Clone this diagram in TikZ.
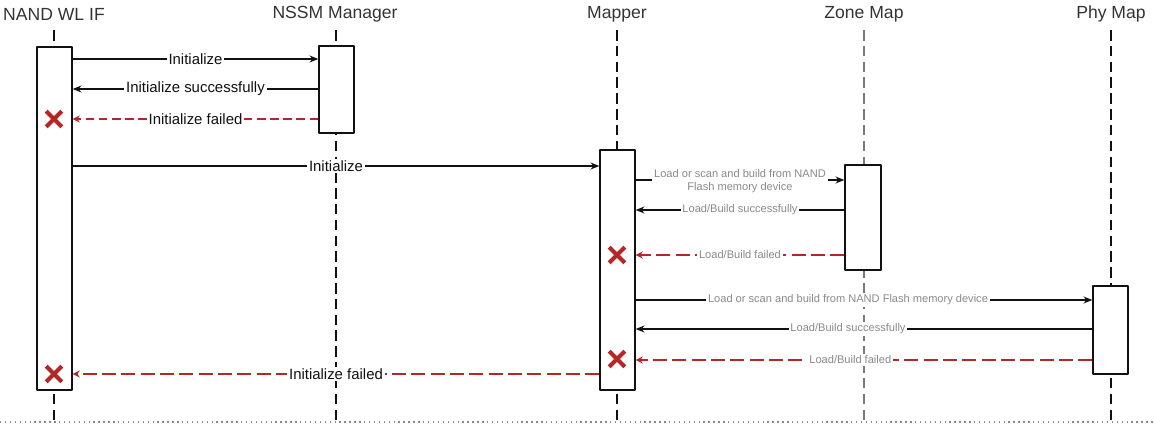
\documentclass[tikz,border=0pt]{standalone}
\usepackage{fontspec}
\setmainfont{Liberation Sans}
\usetikzlibrary{arrows.meta,fit,shapes.misc}
\newcommand{\Unit}{0.02cm}
\newcommand{\Thin}{0.6pt}
\definecolor{ink}{HTML}{111111}
\definecolor{headink}{HTML}{333333}
\definecolor{mute}{HTML}{8A8A8A}
\definecolor{failred}{HTML}{B52626}
\definecolor{zoneline}{HTML}{7A7A7A}

\tikzset{
  head/.style={font=\fontsize{10}{12}\selectfont, text=headink, inner sep=1pt},
  life/.style={ink, line width=1.4pt, dash pattern=on 6pt off 3pt},
  actbox/.style={draw=ink, fill=white, line width=0.8pt, inner sep=0pt},
  msg/.style={draw=ink, line width=\Thin, -{Stealth[length=5pt,width=4pt]}},
  failmsg/.style={draw=failred, line width=1.6pt, dash pattern=on 8pt off 3pt,
    -{Stealth[length=4pt,width=4pt]}},
  lbl/.style={fill=white, inner sep=1pt, text=ink, font=\fontsize{8.5}{10}\selectfont},
  graylbl/.style={fill=white, inner sep=1pt, text=mute, font=\fontsize{6.3}{7.5}\selectfont},
  failx/.style={cross out, draw=failred, line width=2.4pt, minimum size=6.5pt, inner sep=0pt}
}

\begin{document}
\begin{tikzpicture}[x=\Unit,y=-\Unit, line join=round]
  \useasboundingbox (0,0) rectangle (1154,424);

  % ---- heads ----------------------------------------------------------------
  \node[head] (hnand) at (54,14) {NAND WL IF};
  \node[head] (hnssm) at (335,14) {NSSM Manager};
  \node[head] (hmap)  at (617,14) {Mapper};
  \node[head] (hzone) at (864,14) {Zone Map};
  \node[head] (hphy)  at (1111,14) {Phy Map};

  % ---- lifelines, the zone map one is grey ----------------------------------
  \draw[life] (54,30) -- (54,420);
  \draw[life] (336,30) -- (336,420);
  \draw[life] (617,30) -- (617,420);
  \draw[life, zoneline, line width=1.1pt] (864,30) -- (864,420);
  \draw[life] (1111,30) -- (1111,420);
  \draw[mute, line width=0.8pt, dotted] (0,422) -- (1154,422);

  % ---- activation boxes -----------------------------------------------------
  \node[actbox, fit={(37,47) (72,390)}] (nand) {};
  \node[actbox, fit={(319,46) (354,133)}] (nssm) {};
  \node[actbox, fit={(600,150) (635,390)}] (map) {};
  \node[actbox, fit={(845,165) (881,270)}] (zone) {};
  \node[actbox, fit={(1093,286) (1128,374)}] (phy) {};

  % ---- message rows ---------------------------------------------------------
  \foreach \n/\y in {1/59,2/89,3/119,4/166,5/180,6/210,7/255,8/300,9/329,10/360,11/374}
    \coordinate (r\n) at (0,\y);

  % NAND WL IF <-> NSSM Manager
  \draw[msg] (nand.east |- r1) -- node[lbl] {Initialize} (nssm.west |- r1);
  \draw[msg] (nssm.west |- r2) -- node[lbl] {Initialize successfully} (nand.east |- r2);
  \draw[failmsg, line width=0.9pt, dash pattern=on 5pt off 2.5pt]
    (nssm.west |- r3) -- node[lbl] {Initialize failed} (nand.east |- r3);
  \node[failx] (x1) at (54,119) {};

  % NAND WL IF -> Mapper
  \draw[msg] (nand.east |- r4) -- node[lbl] {Initialize} (map.west |- r4);

  % Mapper <-> Zone Map
  \draw[msg] (map.east |- r5) -- node[graylbl, align=center, yshift=-0.5pt]
    {Load or scan and build from NAND\\Flash memory device} (zone.west |- r5);
  \draw[msg] (zone.west |- r6) -- node[graylbl] {Load/Build successfully} (map.east |- r6);
  \draw[failmsg] (zone.west |- r7) -- node[graylbl] {Load/Build failed} (map.east |- r7);
  \node[failx] (x2) at (617,255) {};

  % Mapper <-> Phy Map
  \draw[msg] (map.east |- r8) -- node[graylbl, pos=0.465]
    {Load or scan and build from NAND Flash memory device} (phy.west |- r8);
  \draw[msg] (phy.west |- r9) -- node[graylbl, pos=0.535] {Load/Build successfully} (map.east |- r9);
  \draw[failmsg] (phy.west |- r10) -- node[graylbl, pos=0.53] {Load/Build failed} (map.east |- r10);
  \node[failx] (x3) at (617,359) {};

  % Mapper -> NAND WL IF
  \draw[failmsg] (map.west |- r11) -- node[lbl] {Initialize failed} (nand.east |- r11);
  \node[failx] (x4) at (54,374) {};

\end{tikzpicture}
\end{document}
